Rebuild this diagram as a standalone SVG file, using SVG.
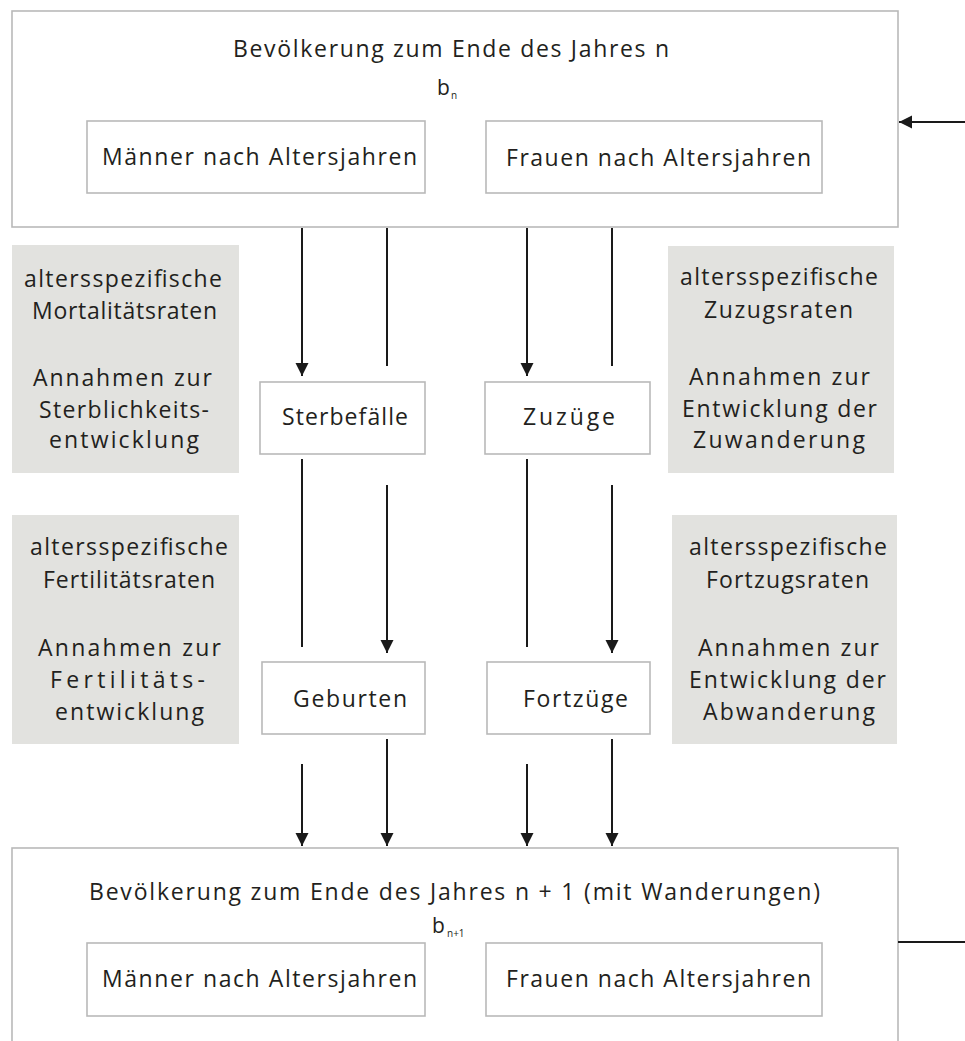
<svg xmlns="http://www.w3.org/2000/svg" width="965" height="1041" viewBox="0 0 965 1041">
<style>
.box{fill:#ffffff;stroke:#b9b9b9;stroke-width:1.6}
.gray{fill:#e2e2df;stroke:none}
.t{font-family:"Open Sans","DejaVu Sans",sans-serif;font-size:23px;fill:#231f20}
.b{font-family:"Open Sans","DejaVu Sans",sans-serif;font-size:21px;fill:#231f20}
.sub{font-family:"Open Sans","DejaVu Sans",sans-serif;font-size:10px;fill:#231f20}
.ln{stroke:#1a1a1a;stroke-width:2;fill:none}
.ar{stroke:#1a1a1a;stroke-width:2;fill:none;marker-end:url(#ah)}
</style>
<defs>
<marker id="ah" markerUnits="userSpaceOnUse" markerWidth="14" markerHeight="14" refX="13" refY="6.5" orient="auto">
<path d="M0,0 L13,6.5 L0,13 z" fill="#1a1a1a"/>
</marker>
</defs>
<rect width="965" height="1041" fill="#ffffff"/>

<g id="top">
<rect class="box" x="12" y="11" width="886" height="216"/>
<text class="t" x="233" y="57" textLength="436" lengthAdjust="spacing">Bevölkerung zum Ende des Jahres n</text>
<text class="b" x="437" y="95">b</text><text class="sub" x="451" y="99">n</text>
</g>
<g id="top-m">
<rect class="box" x="87" y="121" width="338" height="72"/>
<text class="t" x="102" y="165" textLength="315" lengthAdjust="spacing">Männer nach Altersjahren</text>
</g>
<g id="top-f">
<rect class="box" x="486" y="121" width="336" height="72"/>
<text class="t" x="506" y="166" textLength="305" lengthAdjust="spacing">Frauen nach Altersjahren</text>
</g>

<g id="mort">
<rect class="gray" x="12" y="245" width="227" height="228"/>
<text class="t" x="24" y="287" textLength="198" lengthAdjust="spacing">altersspezifische</text>
<text class="t" x="32" y="319" textLength="185" lengthAdjust="spacing">Mortalitätsraten</text>
<text class="t" x="33" y="386" textLength="179" lengthAdjust="spacing">Annahmen zur</text>
<text class="t" x="39" y="418" textLength="170" lengthAdjust="spacing">Sterblichkeits-</text>
<text class="t" x="49" y="448" textLength="150" lengthAdjust="spacing">entwicklung</text>
</g>
<g id="zuzug-raten">
<rect class="gray" x="668" y="246" width="226" height="227"/>
<text class="t" x="680" y="285" textLength="198" lengthAdjust="spacing">altersspezifische</text>
<text class="t" x="704" y="318" textLength="149" lengthAdjust="spacing">Zuzugsraten</text>
<text class="t" x="689" y="385" textLength="181" lengthAdjust="spacing">Annahmen zur</text>
<text class="t" x="682" y="417" textLength="195" lengthAdjust="spacing">Entwicklung der</text>
<text class="t" x="693" y="448" textLength="172" lengthAdjust="spacing">Zuwanderung</text>
</g>
<g id="fert">
<rect class="gray" x="12" y="515" width="227" height="229"/>
<text class="t" x="30" y="555" textLength="198" lengthAdjust="spacing">altersspezifische</text>
<text class="t" x="43" y="588" textLength="172" lengthAdjust="spacing">Fertilitätsraten</text>
<text class="t" x="38" y="656" textLength="183" lengthAdjust="spacing">Annahmen zur</text>
<text class="t" x="50" y="688" textLength="155" lengthAdjust="spacing">Fertilitäts-</text>
<text class="t" x="55" y="720" textLength="149" lengthAdjust="spacing">entwicklung</text>
</g>
<g id="fortzug-raten">
<rect class="gray" x="672" y="515" width="225" height="229"/>
<text class="t" x="689" y="555" textLength="198" lengthAdjust="spacing">altersspezifische</text>
<text class="t" x="706" y="588" textLength="163" lengthAdjust="spacing">Fortzugsraten</text>
<text class="t" x="698" y="656" textLength="181" lengthAdjust="spacing">Annahmen zur</text>
<text class="t" x="689" y="688" textLength="197" lengthAdjust="spacing">Entwicklung der</text>
<text class="t" x="703" y="720" textLength="172" lengthAdjust="spacing">Abwanderung</text>
</g>

<g id="sterbe">
<rect class="box" x="260" y="382" width="165" height="72"/>
<text class="t" x="282" y="425" textLength="126" lengthAdjust="spacing">Sterbefälle</text>
</g>
<g id="zuzuege">
<rect class="box" x="485" y="382" width="165" height="72"/>
<text class="t" x="523" y="425" textLength="92" lengthAdjust="spacing">Zuzüge</text>
</g>
<g id="geburten">
<rect class="box" x="262" y="662" width="163" height="72"/>
<text class="t" x="293" y="707" textLength="114" lengthAdjust="spacing">Geburten</text>
</g>
<g id="fortzuege">
<rect class="box" x="487" y="662" width="163" height="72"/>
<text class="t" x="523" y="707" textLength="105" lengthAdjust="spacing">Fortzüge</text>
</g>

<g id="bottom">
<rect class="box" x="12" y="848" width="886" height="200"/>
<text class="t" x="89" y="900" textLength="731" lengthAdjust="spacing">Bevölkerung zum Ende des Jahres n + 1 (mit Wanderungen)</text>
<text class="b" x="432" y="933">b</text><text class="sub" x="447" y="937">n+1</text>
</g>
<g id="bottom-m">
<rect class="box" x="87" y="943" width="338" height="73"/>
<text class="t" x="102" y="987" textLength="315" lengthAdjust="spacing">Männer nach Altersjahren</text>
</g>
<g id="bottom-f">
<rect class="box" x="486" y="943" width="336" height="73"/>
<text class="t" x="506" y="987" textLength="305" lengthAdjust="spacing">Frauen nach Altersjahren</text>
</g>

<g id="connectors">
<line class="ar" x1="965" y1="122" x2="899" y2="122"/>
<line class="ln" x1="898" y1="942" x2="965" y2="942"/>
<line class="ar" x1="302" y1="228" x2="302" y2="376"/>
<line class="ln" x1="387" y1="228" x2="387" y2="366"/>
<line class="ar" x1="527" y1="228" x2="527" y2="376"/>
<line class="ln" x1="612" y1="228" x2="612" y2="366"/>
<line class="ln" x1="302" y1="459" x2="302" y2="647"/>
<line class="ar" x1="387" y1="485" x2="387" y2="653"/>
<line class="ln" x1="527" y1="459" x2="527" y2="647"/>
<line class="ar" x1="612" y1="485" x2="612" y2="653"/>
<line class="ar" x1="302" y1="764" x2="302" y2="846"/>
<line class="ar" x1="387" y1="739" x2="387" y2="846"/>
<line class="ar" x1="527" y1="764" x2="527" y2="846"/>
<line class="ar" x1="612" y1="739" x2="612" y2="846"/>
</g>
</svg>
